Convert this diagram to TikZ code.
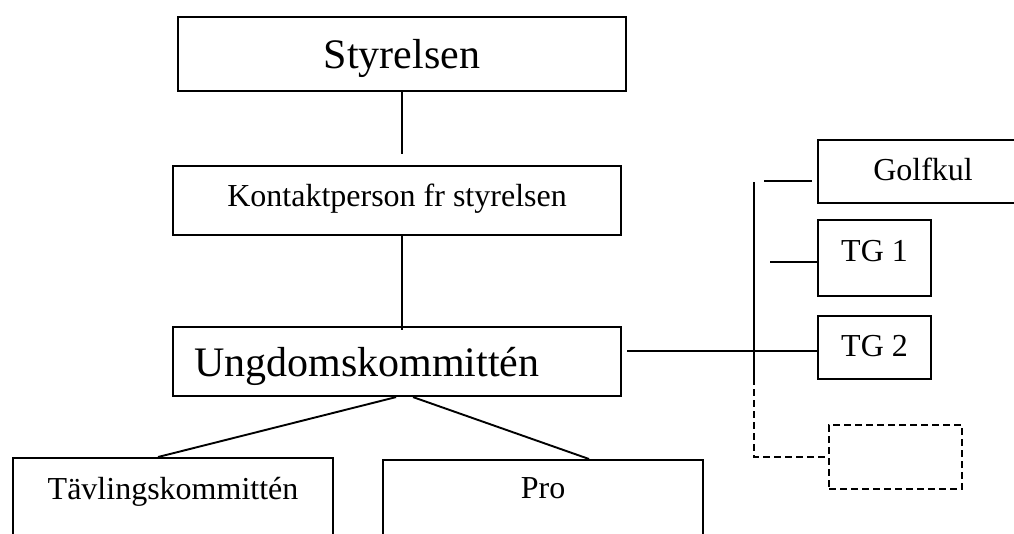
\documentclass[tikz,border=0pt]{standalone}
\usepackage{fontspec}
\setmainfont{Liberation Serif}
\usetikzlibrary{positioning,calc}

\tikzset{
  box/.style={draw, line width=2.1pt, rectangle, inner sep=0pt, anchor=north west,
    font=\fontsize{32}{36}\selectfont},
  bigbox/.style={box, font=\fontsize{42}{48}\selectfont},
  link/.style={line width=1.9pt},
  dashline/.style={line width=2pt, dash pattern=on 7pt off 4pt},
}

\begin{document}
\begin{tikzpicture}[x=1pt, y=-1pt]

    \useasboundingbox (0,0) rectangle (1014,533);
    \clip (0,0) rectangle (1014,533);

    % main column
    \node[bigbox, minimum width=448pt, text height=51pt, text depth=23pt] (styr) at (177,16) {Styrelsen};
    \node[box, minimum width=448pt, text height=40pt, text depth=29pt] (kontakt) at (172,165) {Kontaktperson fr styrelsen};
    \node[bigbox, text width=406pt, align=left, inner xsep=21pt, text height=49pt, text depth=20pt] (ungdom) at (172,326) {Ungdomskommittén};

    % lower boxes
    \node[box, minimum width=320pt, text height=41pt, text depth=100pt] (tavling) at (12,457) {Tävlingskommittén};
    \node[box, minimum width=320pt, text height=38pt, text depth=100pt] (pro) at (382,459) {Pro};

    % right column
    \node[box, minimum width=210pt, text height=40pt, text depth=23pt] (golfkul) at (817,139) {Golfkul};
    \node[box, minimum width=113pt, text height=41pt, text depth=35pt] (tga) at (817,219) {TG 1};
    \node[box, minimum width=113pt, text height=40pt, text depth=23pt] (tgb) at (817,315) {TG 2};
    \node[box, dashline, minimum width=133pt, text height=64pt, text depth=0pt] (spare) at (828,424) {};

    \coordinate (styrEnd) at (402,154);
    \coordinate (ungdomR) at (627,351);
    \coordinate (busTop) at (754,182);
    \coordinate (busMid) at (754,378);
    \coordinate (golfStub) at (764,181);
    \coordinate (tgaStub) at (770,262);

    \draw[link] (styr.south -| styrEnd) -- (styrEnd);
    \draw[link] (styrEnd |- kontakt.south) -- ([yshift=-4pt]styrEnd |- ungdom.north);

    \draw[link] ([xshift=-1pt]ungdom.south) -- ([xshift=-15pt]tavling.north);
    \draw[link] ([xshift=16pt]ungdom.south) -- ([xshift=46pt]pro.north);

    \draw[link] (ungdomR) -- (ungdomR -| tgb.west);
    \draw[link] (busTop) -- (busMid);
    \draw[dashline] (busMid) -- (busMid |- spare.west) -- (spare.west);

    \draw[link, shorten >=5pt] (golfStub) -- (golfStub -| golfkul.west);
    \draw[link] (tgaStub) -- (tgaStub -| tga.west);

\end{tikzpicture}
\end{document}
